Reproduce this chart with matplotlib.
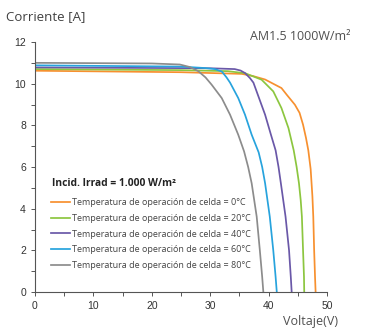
import matplotlib
matplotlib.use("Agg")
import matplotlib.pyplot as plt

plt.rcParams['font.family'] = ['Open Sans', 'DejaVu Sans']

# I-V curves, one per cell temperature
v_0 = [0, 25, 35.4, 37.4, 39.4, 42.2, 43.1, 44.5, 45.3, 45.9, 46.4, 46.8, 47.2, 47.5, 47.65, 47.8, 47.95, 48.05]
i_0 = [10.62, 10.55, 10.47, 10.36, 10.2, 9.79, 9.47, 8.99, 8.6, 8.03, 7.4, 6.8, 5.9, 4.6, 3.62, 2.0, 0.73, 0]
v_20 = [0, 25, 33, 36, 38.8, 40.8, 42.2, 43.4, 44.3, 44.8, 45.2, 45.5, 45.7, 45.9, 46.06, 46.1]
i_20 = [10.7, 10.65, 10.6, 10.5, 10.19, 9.63, 8.83, 7.87, 6.8, 6.0, 5.22, 4.4, 3.62, 2.0, 0.73, 0]
v_40 = [0, 30, 34.2, 35.2, 35.96, 36.8, 37.4, 38.36, 39.4, 40.4, 41.2, 41.7, 42.1, 42.9, 43.5, 43.8, 43.95]
i_40 = [10.78, 10.74, 10.7, 10.63, 10.51, 10.27, 10.05, 9.31, 8.51, 7.55, 6.8, 6.0, 5.22, 3.62, 2.0, 0.73, 0]
v_60 = [0, 25, 29.1, 30.8, 32.0, 32.8, 33.4, 34.8, 35.96, 37.1, 38.3, 38.9, 39.4, 40.2, 40.8, 41.2, 41.4]
i_60 = [10.88, 10.82, 10.75, 10.7, 10.58, 10.3, 10.05, 9.31, 8.51, 7.55, 6.7, 6.0, 5.22, 3.62, 2.0, 0.73, 0]
v_80 = [0, 20, 24.8, 26.5, 27.96, 29.2, 30.25, 31.97, 33.4, 34.8, 35.8, 36.5, 37.1, 37.96, 38.5, 38.9, 39.1]
i_80 = [11.0, 10.97, 10.92, 10.8, 10.6, 10.3, 9.95, 9.31, 8.51, 7.55, 6.75, 6.0, 5.22, 3.62, 2.0, 0.73, 0]

temps = ['0°C', '20°C', '40°C', '60°C', '80°C']
colors = ['#f7902f', '#8cc63f', '#6a58a8', '#27a3dd', '#8c8c8c']
curves = [(v_0, i_0), (v_20, i_20), (v_40, i_40), (v_60, i_60), (v_80, i_80)]

fig = plt.figure(figsize=(3.75, 3.28), dpi=100)
ax = fig.add_axes([35/375, 1-292/328, 292/375, 250/328])

for (v, i), t, c in zip(curves, temps, colors):
    ax.plot(v, i, color=c, lw=1.25, label='Temperatura de operación de celda = ' + t,
            solid_joinstyle='round')

ax.set_xlim(0, 50)
ax.set_ylim(0, 12)
ax.set_xticks(range(0, 51, 10))
ax.set_xticks(range(0, 51, 5), minor=True)
ax.set_yticks(range(0, 13, 2))
ax.set_yticks(range(0, 13, 1), minor=True)
for s in ['top', 'right']:
    ax.spines[s].set_visible(False)
for s in ['left', 'bottom']:
    ax.spines[s].set_color('#555555')
    ax.spines[s].set_linewidth(0.8)
ax.tick_params(which='both', direction='out', length=3, width=0.7, color='#555555',
               labelsize=7.5, labelcolor='#333333')
for lbl in ax.get_xticklabels() + ax.get_yticklabels():
    lbl.set_family(['Liberation Sans', 'DejaVu Sans'])

leg = ax.legend(loc='upper left', bbox_to_anchor=(51/375, 1-198/328),
                bbox_transform=fig.transFigure, frameon=False, fontsize=6.5,
                handlelength=2.1, handletextpad=0.2, labelspacing=0.75,
                borderpad=0, borderaxespad=0)
for txt in leg.get_texts():
    txt.set_color('#444444')

fig.text(52/375, 1-183/328, 'Incid. Irrad = 1.000 W/m²', fontsize=7.4, weight='bold',
         color='#222222', va='center')
fig.text(6/375, 1-17/328, 'Corriente [A]', fontsize=9.5, color='#404040', va='center')
fig.text(350/375, 1-37/328, 'AM1.5 1000W/m²', fontsize=9, color='#505050',
         ha='right', va='center')
fig.text(338/375, 1-322/328, 'Voltaje(V)', fontsize=9, color='#505050',
         ha='right', va='center')

fig.savefig('out.png', dpi=100)
